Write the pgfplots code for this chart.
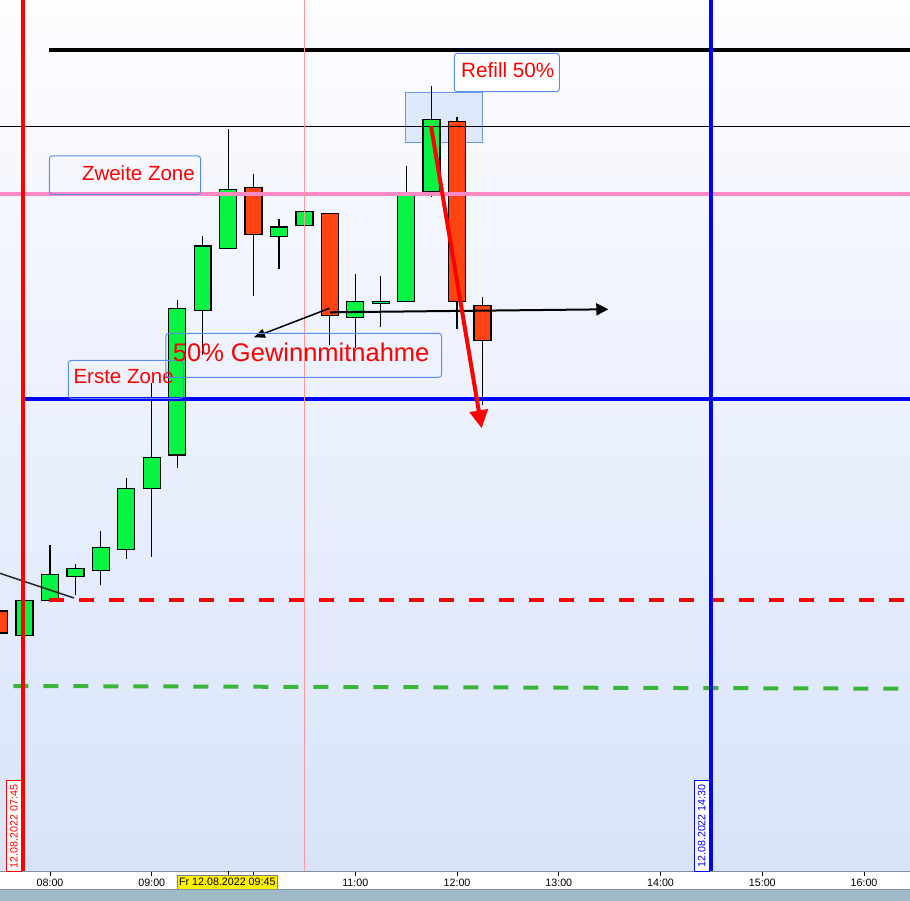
\documentclass[border=0pt]{standalone}
\usepackage{fontspec}
\setmainfont{Liberation Sans}
\usepackage{pgfplots}
\pgfplotsset{compat=1.18}
\usetikzlibrary{arrows.meta}

\definecolor{bgtop}{HTML}{FDFDFF}
\definecolor{bgbot}{HTML}{D8E3FA}
\definecolor{upC}{HTML}{08F442}
\definecolor{dnC}{HTML}{FF4411}
\definecolor{pinkl}{HTML}{FF88C4}
\definecolor{lred}{HTML}{FF9999}
\definecolor{dgreen}{HTML}{3AB53A}
\definecolor{boxc}{HTML}{5B8DEF}
\definecolor{hlf}{HTML}{C4D8FA}
\definecolor{hlb}{HTML}{6C9AE8}
\definecolor{axgray}{HTML}{7F8C99}
\definecolor{bandc}{HTML}{A0BBC7}
\definecolor{banddark}{HTML}{8596A2}

\pgfplotsset{
  up/.style={draw=black, line width=1.3pt, fill=upC},
  dn/.style={draw=black, line width=1.3pt, fill=dnC},
}

% candle: style, time, low, body bottom, body top, high
\newcommand{\candle}[6]{%
  \pgfmathsetmacro\xl{#2-0.0835}\pgfmathsetmacro\xr{#2+0.0835}%
  \addplot[black, line width=1.1pt] coordinates {(#2,#3) (#2,#6)};%
  \edef\tmp{\noexpand\addplot[#1] coordinates {(\xl,#4) (\xr,#4) (\xr,#5) (\xl,#5)} -- cycle;}\tmp}

\begin{document}
\begin{tikzpicture}
\begin{axis}[
  width=910pt, height=871pt, scale only axis,
  xmin=7.5084, xmax=16.4519, ymin=0, ymax=871,
  axis x line*=bottom, axis y line=none,
  x axis line style={draw=axgray, line width=1pt},
  xtick={8,9,10,11,12,13,14,15,16},
  xticklabels={08:00,09:00,,11:00,12:00,13:00,14:00,15:00,16:00},
  extra x ticks={9.75}, extra x tick labels={},
  tick align=outside, major tick length=5pt,
  tick style={black, line width=0.6pt},
  xticklabel style={font=\fontsize{10.7}{12}\selectfont, text=black, anchor=base, yshift=-10pt},
  axis background/.style={shade, top color=bgtop, bottom color=bgbot},
  clip=false,
]

% highlight box behind candles
\draw[hlb, fill=hlf, fill opacity=0.5, line width=1pt] (axis cs:11.4917,778.7) rectangle (axis cs:12.2524,728.3);

\candle{dn}{7.50}{238}{238}{260}{260}
\candle{up}{7.75}{235.3}{235.3}{270.7}{270.7}
\candle{up}{8.00}{270.7}{270.7}{296.7}{326}
\candle{up}{8.25}{276}{294.7}{302.7}{307}
\candle{up}{8.50}{286.3}{300.7}{323.7}{340}
\candle{up}{8.75}{312.3}{321.7}{382.7}{393}
\candle{up}{9.00}{314.3}{382.7}{413.7}{488}
\candle{up}{9.25}{402.7}{416}{562.7}{571}
\candle{up}{9.50}{516}{560.7}{625}{635}
\candle{up}{9.75}{622.7}{622.7}{681.7}{742}
\candle{dn}{10.00}{575.3}{636.7}{683.7}{697}
\candle{up}{10.25}{602.3}{634.7}{644}{652}
\candle{up}{10.50}{634.7}{645.7}{659.7}{676}
\candle{dn}{10.75}{526}{555.3}{657.7}{657.7}
\candle{up}{11.00}{523}{553.7}{569.7}{597}
\candle{up}{11.25}{544.3}{567.7}{569.7}{595}
\candle{up}{11.50}{569.7}{569.7}{675.3}{705}
\candle{up}{11.75}{673.7}{679.3}{751.7}{785}
\candle{dn}{12.00}{542.3}{569.7}{749.7}{753.7}
\candle{dn}{12.25}{466}{530.7}{565.7}{574}

% horizontal levels
\addplot[black, line width=3.5pt] coordinates {(7.9900,821) (16.4519,821)};
\addplot[black, line width=1pt] coordinates {(7.5084,744.7) (16.4519,744.7)};
\addplot[pinkl, line width=4pt] coordinates {(7.5084,677.3) (16.4519,677.3)};
\addplot[blue, line width=3.5pt] coordinates {(7.7246,472) (16.4519,472)};
\addplot[red, line width=4pt, dash pattern=on 15pt off 15pt] coordinates {(7.9900,271) (16.4519,271)};
\addplot[dgreen, line width=4pt, dash pattern=on 15pt off 15pt] coordinates {(7.6391,185) (16.4519,182.3)};
\addplot[black!85, line width=1.5pt] coordinates {(7.5084,297.7) (8.2357,273)};

% vertical markers
\addplot[lred, line width=1pt] coordinates {(10.5,0) (10.5,871)};
\addplot[red, line width=4pt] coordinates {(7.735,0) (7.735,871)};
\addplot[blue, line width=4pt] coordinates {(14.5,0) (14.5,871)};

% arrows
\draw[black, line width=1.5pt, -{Triangle[length=11pt,width=9pt]}] (axis cs:10.7467,562.7) -- (axis cs:10.0047,533.7);
\draw[black, line width=2pt, -{Triangle[length=12pt,width=12pt]}] (axis cs:10.7516,558.7) -- (axis cs:13.4866,561.7);
\draw[red, line width=4pt, -{Triangle[length=18pt,width=18pt]}] (axis cs:11.7443,745) -- (axis cs:12.2426,442.7);

% text boxes
\draw[boxc, line width=1pt, rounded corners=3pt] (axis cs:7.9929,715) rectangle (axis cs:9.4809,676.7);
\node[anchor=east, inner sep=0pt, text=red, font=\fontsize{20.5}{24}\selectfont] at (axis cs:9.4249,697.7) {Zweite Zone};
\draw[boxc, line width=1pt, rounded corners=3pt] (axis cs:8.1797,510.7) rectangle (axis cs:9.3099,472.7);
\node[anchor=west, inner sep=0pt, text=red, font=\fontsize{20.5}{24}\selectfont] at (axis cs:8.2288,494) {Erste Zone};
\draw[boxc, line width=1pt, rounded corners=3pt] (axis cs:9.1398,537.7) rectangle (axis cs:11.8494,493.7);
\node[anchor=west, inner sep=0pt, text=red, font=\fontsize{25.5}{30}\selectfont] at (axis cs:9.2057,518.5) {50\% Gewinnmitnahme};
\draw[boxc, fill=white, line width=1pt, rounded corners=3pt] (axis cs:11.9733,817.7) rectangle (axis cs:13.0052,779.3);
\node[anchor=west, inner sep=0pt, text=red, font=\fontsize{20.7}{24}\selectfont] at (axis cs:12.0391,800.5) {Refill 50\%};

% time stamps on the vertical markers
\draw[red, fill=white, line width=1pt] (axis cs:7.5742,0) rectangle (axis cs:7.7148,91);
\node[rotate=90, inner sep=0pt, text=red, font=\fontsize{10.7}{12}\selectfont] at (axis cs:7.6460,44.5) {12.08.2022 07:45};
\draw[blue, fill=white, line width=1pt] (axis cs:14.3320,0) rectangle (axis cs:14.4765,91);
\node[rotate=90, inner sep=0pt, text=blue, font=\fontsize{10.7}{12}\selectfont] at (axis cs:14.4047,45) {12.08.2022 14:30};

% crosshair time label and bottom band
\draw[gray, fill=yellow, line width=1pt] (axis cs:9.2509,-4) rectangle (axis cs:10.2337,-18.3);
\node[inner sep=0pt, font=\fontsize{10.7}{12}\selectfont] at (axis cs:9.7423,-11.3) {Fr 12.08.2022 09:45};
\fill[bandc] (axis cs:7.5084,-18.5) rectangle (axis cs:16.4519,-30);
\draw[banddark, line width=1pt] (axis cs:7.5084,-18.8) -- (axis cs:16.4519,-18.8);

\coordinate (BL) at (axis cs:7.5084,-29);
\coordinate (TR) at (axis cs:16.4519,871);
\end{axis}
\pgfresetboundingbox
\path (BL) rectangle (TR);
\end{tikzpicture}
\end{document}
